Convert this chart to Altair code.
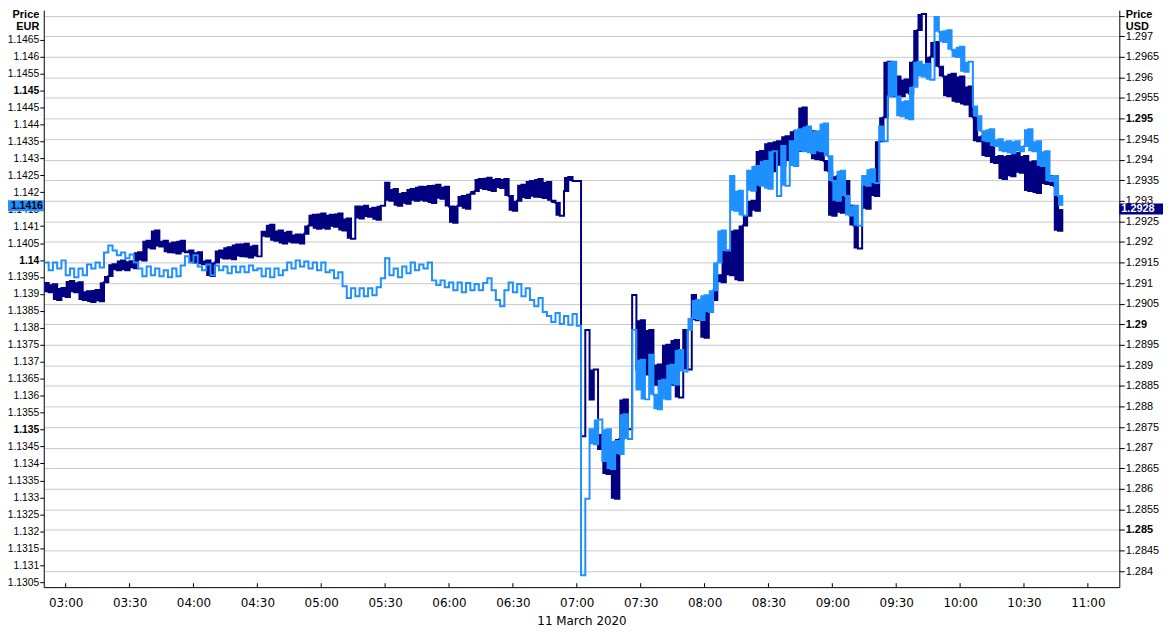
import altair as alt
import pandas as pd

# ---------------- data ----------------
START_MIN = 170          # 02:50, minutes after midnight, 11 March 2020
STEP_MIN = 2             # sampling step of the readings

# GBP/USD (navy, right axis)
usd = [
    1.29100, 1.29078, 1.29097, 1.29059, 1.29088, 1.29066, 1.29105, 1.29078, 1.29102, 1.29059,
    1.29080, 1.29054, 1.29083, 1.29056, 1.29102, 1.29117, 1.29146, 1.29131, 1.29155, 1.29131,
    1.29153, 1.29136, 1.29175, 1.29155, 1.29203, 1.29184, 1.29228, 1.29189, 1.29203, 1.29175,
    1.29199, 1.29172, 1.29203, 1.29175, 1.29179, 1.29150, 1.29175, 1.29146, 1.29155, 1.29117,
    1.29150, 1.29179, 1.29160, 1.29187, 1.29158, 1.29194, 1.29165, 1.29196, 1.29162, 1.29191,
    1.29165, 1.29225, 1.29213, 1.29242, 1.29203, 1.29228, 1.29196, 1.29225, 1.29199, 1.29218,
    1.29196, 1.29220, 1.29240, 1.29266, 1.29232, 1.29269, 1.29232, 1.29266, 1.29237, 1.29269,
    1.29228, 1.29257, 1.29208, 1.29286, 1.29257, 1.29288, 1.29261, 1.29283, 1.29254, 1.29288,
    1.29344, 1.29300, 1.29329, 1.29288, 1.29319, 1.29293, 1.29329, 1.29300, 1.29334, 1.29300,
    1.29336, 1.29295, 1.29339, 1.29305, 1.29334, 1.29286, 1.29247, 1.29288, 1.29312, 1.29281,
    1.29317, 1.29324, 1.29353, 1.29329, 1.29356, 1.29324, 1.29353, 1.29331, 1.29353, 1.29312,
    1.29276, 1.29300, 1.29339, 1.29307, 1.29348, 1.29310, 1.29353, 1.29307, 1.29346, 1.29300,
    1.29295, 1.29264, 1.29324, 1.29358, 1.29348, 1.29348, 1.28728, 1.28986, 1.28817, 1.28890,
    1.28697, 1.28733, 1.28636, 1.28677, 1.28576, 1.28721, 1.28817, 1.28745, 1.29071, 1.28890,
    1.29010, 1.28878, 1.28986, 1.28853, 1.28902, 1.28841, 1.28950, 1.28853, 1.28962, 1.28822,
    1.28986, 1.28890, 1.29071, 1.29010, 1.29035, 1.28967, 1.29030, 1.29059, 1.29119, 1.29102,
    1.29179, 1.29119, 1.29228, 1.29107, 1.29240, 1.29264, 1.29300, 1.29276, 1.29421, 1.29360,
    1.29440, 1.29372, 1.29445, 1.29385, 1.29457, 1.29397, 1.29469, 1.29421, 1.29527, 1.29433,
    1.29469, 1.29401, 1.29457, 1.29397, 1.29372, 1.29264, 1.29360, 1.29271, 1.29348, 1.29288,
    1.29240, 1.29184, 1.29336, 1.29281, 1.29348, 1.29312, 1.29445, 1.29503, 1.29638, 1.29554,
    1.29602, 1.29554, 1.29595, 1.29561, 1.29638, 1.29715, 1.29754, 1.29602, 1.29650, 1.29686,
    1.29626, 1.29602, 1.29554, 1.29609, 1.29541, 1.29602, 1.29534, 1.29578, 1.29503, 1.29445,
    1.29457, 1.29409, 1.29445, 1.29392, 1.29409, 1.29353, 1.29409, 1.29360, 1.29416, 1.29368,
    1.29409, 1.29324, 1.29396, 1.29319, 1.29385, 1.29341, 1.29360, 1.29336, 1.29227, 1.29280,
]

# GBP/EUR (azure, left axis)
eur = [
    1.13993, 1.13970, 1.13993, 1.13975, 1.13999, 1.13955, 1.13975, 1.13949, 1.13975, 1.13955,
    1.13987, 1.13975, 1.13993, 1.13978, 1.14022, 1.14043, 1.14028, 1.14014, 1.14022, 1.14005,
    1.14016, 1.13993, 1.13975, 1.13952, 1.13981, 1.13955, 1.13975, 1.13952, 1.13970, 1.13949,
    1.13975, 1.13952, 1.13984, 1.14011, 1.13993, 1.14014, 1.13981, 1.13970, 1.13987, 1.13955,
    1.13984, 1.13970, 1.13981, 1.13961, 1.13981, 1.13964, 1.13981, 1.13964, 1.13984, 1.13970,
    1.13975, 1.13952, 1.13975, 1.13949, 1.13975, 1.13955, 1.13970, 1.13993, 1.13975, 1.13999,
    1.13981, 1.13996, 1.13975, 1.13993, 1.13970, 1.13993, 1.13964, 1.13970, 1.13946, 1.13964,
    1.13923, 1.13888, 1.13917, 1.13893, 1.13917, 1.13893, 1.13917, 1.13896, 1.13920, 1.13946,
    1.14005, 1.13955, 1.13975, 1.13949, 1.13981, 1.13961, 1.13993, 1.13970, 1.13987, 1.13975,
    1.13993, 1.13940, 1.13926, 1.13940, 1.13920, 1.13934, 1.13911, 1.13934, 1.13905, 1.13932,
    1.13911, 1.13929, 1.13911, 1.13932, 1.13946, 1.13911, 1.13882, 1.13864, 1.13911, 1.13934,
    1.13905, 1.13929, 1.13893, 1.13917, 1.13882, 1.13864, 1.13888, 1.13847, 1.13835, 1.13817,
    1.13844, 1.13811, 1.13835, 1.13809, 1.13841, 1.13806, 1.13070, 1.13296, 1.13501, 1.13457,
    1.13530, 1.13407, 1.13501, 1.13384, 1.13466, 1.13428, 1.13545, 1.13472, 1.13794, 1.13618,
    1.13706, 1.13589, 1.13721, 1.13603, 1.13560, 1.13647, 1.13589, 1.13691, 1.13633, 1.13735,
    1.13671, 1.13794, 1.13829, 1.13882, 1.13823, 1.13896, 1.13847, 1.13911, 1.13993, 1.14087,
    1.14028, 1.14248, 1.14145, 1.14204, 1.14131, 1.14263, 1.14204, 1.14277, 1.14219, 1.14292,
    1.14210, 1.14321, 1.14189, 1.14336, 1.14219, 1.14350, 1.14277, 1.14386, 1.14321, 1.14394,
    1.14315, 1.14380, 1.14321, 1.14403, 1.14306, 1.14233, 1.14175, 1.14263, 1.14189, 1.14131,
    1.14160, 1.14101, 1.14248, 1.14219, 1.14268, 1.14227, 1.14394, 1.14350, 1.14482, 1.14585,
    1.14482, 1.14424, 1.14468, 1.14415, 1.14511, 1.14585, 1.14541, 1.14579, 1.14532, 1.14717,
    1.14673, 1.14643, 1.14678, 1.14620, 1.14599, 1.14629, 1.14555, 1.14585, 1.14453, 1.14424,
    1.14380, 1.14350, 1.14386, 1.14336, 1.14356, 1.14321, 1.14350, 1.14315, 1.14350, 1.14321,
    1.14336, 1.14386, 1.14321, 1.14350, 1.14277, 1.14321, 1.14233, 1.14248, 1.14189, 1.14160,
]

EUR_LAST_LABEL = "1.1416"
USD_LAST_LABEL = "1.2928"
EUR_LAST = 1.1416
USD_LAST = 1.2928

X_TICKS = [180, 210, 240, 270, 300, 330, 360, 390, 420, 450, 480, 510, 540, 570, 600, 630, 660]
EUR_TICKS = [1.1305, 1.131, 1.1315, 1.132, 1.1325, 1.133, 1.1335, 1.134, 1.1345, 1.135,
             1.1355, 1.136, 1.1365, 1.137, 1.1375, 1.138, 1.1385, 1.139, 1.1395, 1.14,
             1.1405, 1.141, 1.1415, 1.142, 1.1425, 1.143, 1.1435, 1.144, 1.1445, 1.145,
             1.1455, 1.146, 1.1465]
USD_TICKS = [1.284, 1.2845, 1.285, 1.2855, 1.286, 1.2865, 1.287, 1.2875, 1.288, 1.2885,
             1.289, 1.2895, 1.29, 1.2905, 1.291, 1.2915, 1.292, 1.2925, 1.293, 1.2935,
             1.294, 1.2945, 1.295, 1.2955, 1.296, 1.2965, 1.297, 1.2975]

X_DOMAIN = [169.7, 674.76]
EUR_DOMAIN = [1.130352, 1.14737]
USD_DOMAIN = [1.28361, 1.297635]

# ---------------- chart ----------------
FONT = "Liberation Sans"
XFONT = "DejaVu Sans"
NAVY = "#000080"
AZURE = "#1E90FF"
W, H = 1083, 581

df = pd.DataFrame({
    "minute": [START_MIN + STEP_MIN * i for i in range(len(usd))],
    "usd": usd,
    "eur": eur,
})

x_scale = alt.Scale(domain=X_DOMAIN, nice=False, zero=False)
eur_scale = alt.Scale(domain=EUR_DOMAIN, nice=False, zero=False)
usd_scale = alt.Scale(domain=USD_DOMAIN, nice=False, zero=False)

time_expr = ("(floor(datum.value/60) < 10 ? '0' : '') + floor(datum.value/60) + ':' + "
             "(datum.value % 60 < 10 ? '0' : '') + (datum.value % 60)")

x_axis = alt.Axis(values=X_TICKS, labelExpr=time_expr, ticks=False, grid=False,
                  domainColor="black", labelFont=XFONT, labelFontSize=12, labelColor="black",
                  labelPadding=10, labelOverlap=False, labelFlush=False,
                  title="11 March 2020", titleFont=XFONT, titleFontSize=12,
                  titleFontWeight="normal", titleColor="black", titlePadding=8, zindex=0)

bold_cond = {"condition": {"test": "abs(datum.value*200 - round(datum.value*200)) < 0.01",
                           "value": "bold"}, "value": "normal"}

eur_axis = alt.Axis(orient="left", values=EUR_TICKS, format=".4~f", labelFontWeight=bold_cond,
                    labelFont=FONT, labelFontSize=10.4, labelColor="black", labelPadding=1,
                    labelOverlap=False, labelFlush=False,
                    tickSize=4, tickColor="black", domainColor="black", grid=False,
                    title=["Price", "EUR"], titleAngle=0, titleAlign="right",
                    titleBaseline="top", titleX=-5, titleY=-2, titleFont=FONT,
                    titleFontSize=11, titleFontWeight="bold", titleColor="black",
                    titleLineHeight=12, zindex=0)

usd_axis = alt.Axis(orient="right", values=USD_TICKS,
                    labelExpr="datum.value > 1.2972 ? '' : format(datum.value, '.4~f')",
                    labelFontWeight=bold_cond,
                    labelFont=FONT, labelFontSize=11, labelColor="black", labelPadding=1,
                    labelOverlap=False, labelFlush=False,
                    tickSize=5, tickColor="black", domainColor="black",
                    grid=True, gridColor="#c8c8c8", gridWidth=1,
                    title=["Price", "USD"], titleAngle=0, titleAlign="left",
                    titleBaseline="top", titleX=6, titleY=-2, titleFont=FONT,
                    titleFontSize=11, titleFontWeight="bold", titleColor="black",
                    titleLineHeight=12, zindex=0)

base = alt.Chart(df)
X = alt.X("minute:Q", scale=x_scale, axis=x_axis)


def band(field, calm_limit, busy_limit):
    """Fill between consecutive readings, giving the dense tick-chart look."""
    limit = f"(datum.minute >= 421 ? {busy_limit} : {calm_limit})"
    ok = f"isValid(datum.nxt) && abs(datum.nxt - datum.{field}) < {limit}"
    return base.transform_window(
        nxt=f"lead({field})", sort=[alt.SortField("minute")]
    ).transform_calculate(
        lo=f"{ok} ? min(datum.{field}, datum.nxt) : datum.{field}",
        hi=f"{ok} ? max(datum.{field}, datum.nxt) : datum.{field}",
    )


usd_band = band("usd", 0.0005, 0.0015).mark_area(
    color=NAVY, interpolate="step-after").encode(
    x=X, y=alt.Y("lo:Q", scale=usd_scale, axis=None), y2="hi:Q")

usd_line = base.mark_line(color=NAVY, strokeWidth=2, interpolate="step-after").encode(
    x=X, y=alt.Y("usd:Q", scale=usd_scale, axis=usd_axis))

eur_band = band("eur", 0, 0.0012).mark_area(
    color=AZURE, interpolate="step-after").encode(
    x=X, y=alt.Y("lo:Q", scale=eur_scale, axis=None), y2="hi:Q")

eur_line = base.mark_line(color=AZURE, strokeWidth=2, interpolate="step-after").encode(
    x=X, y=alt.Y("eur:Q", scale=eur_scale, axis=eur_axis))

ticks = alt.Chart(pd.DataFrame({"minute": X_TICKS})).mark_rule(color="black").encode(
    x=X, y=alt.value(H - 4), y2=alt.value(H))

eur_df = pd.DataFrame({"v": [EUR_LAST], "lbl": [EUR_LAST_LABEL]})
usd_df = pd.DataFrame({"v": [USD_LAST], "lbl": [USD_LAST_LABEL]})

eur_box = alt.Chart(eur_df).mark_rule(color=AZURE, strokeWidth=11, strokeCap="butt").encode(
    y=alt.Y("v:Q", scale=eur_scale, axis=None), x=alt.value(-36), x2=alt.value(0))
eur_txt = alt.Chart(eur_df).mark_text(align="right", baseline="middle", font=FONT,
                                      fontSize=10.5, fontWeight="bold", color="black").encode(
    y=alt.Y("v:Q", scale=eur_scale, axis=None), x=alt.value(-1), text="lbl:N")
usd_box = alt.Chart(usd_df).mark_rule(color=NAVY, strokeWidth=11, strokeCap="butt").encode(
    y=alt.Y("v:Q", scale=usd_scale, axis=None), x=alt.value(W), x2=alt.value(W + 44))
usd_txt = alt.Chart(usd_df).mark_text(align="left", baseline="middle", font=FONT,
                                      fontSize=11, fontWeight="bold", color="white").encode(
    y=alt.Y("v:Q", scale=usd_scale, axis=None), x=alt.value(W + 2), text="lbl:N")

chart = alt.layer(
    usd_band, usd_line, eur_band, eur_line, ticks, eur_box, eur_txt, usd_box, usd_txt
).resolve_scale(y="independent").properties(
    width=W, height=H,
    padding={"left": 36, "right": 44, "top": 0, "bottom": 43},
    autosize=alt.AutoSizeParams(type="none"),
    background="white",
).configure_view(stroke=None)

chart.save("out.html", embed_options={"renderer": "svg", "actions": False})
